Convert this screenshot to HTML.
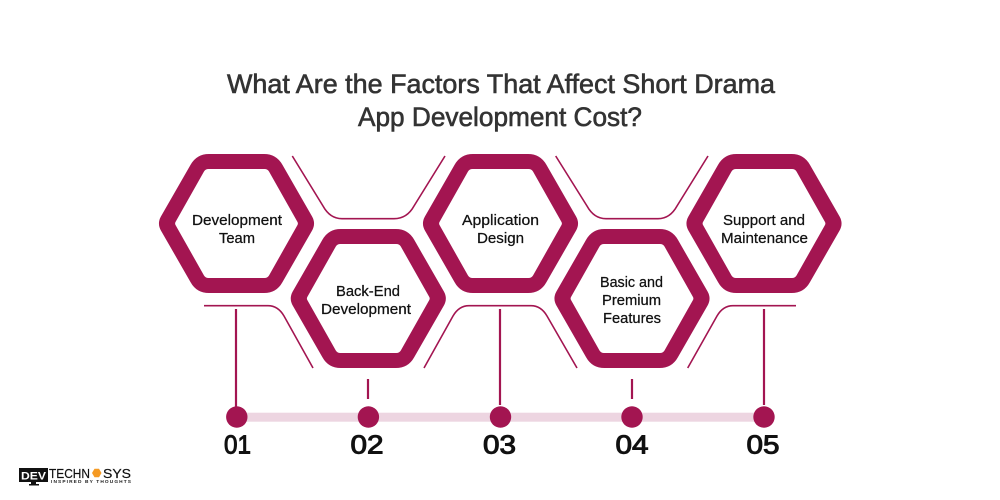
<!DOCTYPE html>
<html>
<head>
<meta charset="utf-8">
<title>Short Drama App Development Cost Factors</title>
<style>
html,body{margin:0;padding:0;background:#fff;width:1000px;height:500px;overflow:hidden}
svg{display:block}
text{font-family:"Liberation Sans",sans-serif}
.lbl{font-size:14.5px;fill:#111;text-anchor:middle;stroke:#111;stroke-width:.25px}
.num{font-size:26px;fill:#111;text-anchor:middle;stroke:#111;stroke-width:1px}
.ttl{font-size:26.5px;fill:#333;text-anchor:middle;stroke:#333;stroke-width:.6px}
.conn{fill:none;stroke:#a31551;stroke-width:1.6}
.stem{stroke:#a31551;stroke-width:2.2}
.hex{fill:#a31551;fill-rule:evenodd}
.dot{fill:#a31551}
</style>
</head>
<body>
<svg width="1000" height="500" viewBox="0 0 1000 500" xmlns="http://www.w3.org/2000/svg">
<defs>
<path id="hexshape" d="M-27.5-69.5L27.5-69.5Q39.9-69.5 45.9-58.7L75.6-7Q79.5 0 75.6 7L45.9 58.7Q39.9 69.5 27.5 69.5L-27.5 69.5Q-39.9 69.5-45.9 58.7L-75.6 7Q-79.5 0-75.6-7L-45.9-58.7Q-39.9-69.5-27.5-69.5Z M-28-54.5Q-31-54.5-32.5-52L-61-1.5Q-61.8 0-61 1.5L-32.5 52Q-31 54.5-28 54.5L28 54.5Q31 54.5 32.5 52L61 1.5Q61.8 0 61-1.5L32.5-52Q31-54.5 28-54.5Z"/>
</defs>

<rect width="1000" height="500" fill="#fff"/>

<text class="ttl" x="501" y="93" textLength="548" lengthAdjust="spacingAndGlyphs">What Are the Factors That Affect Short Drama</text>
<text class="ttl" x="500" y="126" textLength="284" lengthAdjust="spacingAndGlyphs">App Development Cost?</text>

<path class="conn" d="M292.3 156L323 206Q330 218.7 342 218.7L394 218.7Q407 218.7 414 206L445 156"/>
<path class="conn" d="M555.7 156L587 206Q594 218.7 606 218.7L658 218.7Q670 218.7 677 206L708 156"/>
<path class="conn" d="M204 305.7L268 305.7Q278 305.7 284 316L313 368"/>
<path class="conn" d="M424 368L453 316Q459 305.7 469 305.7L531 305.7Q541 305.7 547 316L577 368"/>
<path class="conn" d="M687.7 368L717 316Q723 305.7 733 305.7L796 305.7"/>

<use href="#hexshape" class="hex" transform="translate(236.5 223.5)"/>
<use href="#hexshape" class="hex" transform="translate(368.3 298.5)"/>
<use href="#hexshape" class="hex" transform="translate(500.5 223.5)"/>
<use href="#hexshape" class="hex" transform="translate(632 298.5)"/>
<use href="#hexshape" class="hex" transform="translate(764 223.5)"/>

<text class="lbl" x="237" y="225" textLength="90" lengthAdjust="spacingAndGlyphs">Development</text>
<text class="lbl" x="237" y="243" textLength="36" lengthAdjust="spacingAndGlyphs">Team</text>
<text class="lbl" x="368" y="296" textLength="64" lengthAdjust="spacingAndGlyphs">Back-End</text>
<text class="lbl" x="366" y="314" textLength="90" lengthAdjust="spacingAndGlyphs">Development</text>
<text class="lbl" x="500.5" y="225" textLength="77" lengthAdjust="spacingAndGlyphs">Application</text>
<text class="lbl" x="500.5" y="243" textLength="47" lengthAdjust="spacingAndGlyphs">Design</text>
<text class="lbl" x="631.5" y="287" textLength="63" lengthAdjust="spacingAndGlyphs">Basic and</text>
<text class="lbl" x="631.5" y="305" textLength="59" lengthAdjust="spacingAndGlyphs">Premium</text>
<text class="lbl" x="632" y="323" textLength="58" lengthAdjust="spacingAndGlyphs">Features</text>
<text class="lbl" x="764" y="225" textLength="82" lengthAdjust="spacingAndGlyphs">Support and</text>
<text class="lbl" x="764.5" y="243" textLength="87" lengthAdjust="spacingAndGlyphs">Maintenance</text>

<rect x="237" y="412.7" width="527" height="9" fill="#edd5e1"/>

<line class="stem" x1="236" y1="309" x2="236" y2="408"/>
<line class="stem" x1="368" y1="379" x2="368" y2="399"/>
<line class="stem" x1="500" y1="309" x2="500" y2="405"/>
<line class="stem" x1="632" y1="379" x2="632" y2="399"/>
<line class="stem" x1="764" y1="309" x2="764" y2="405"/>

<circle class="dot" cx="236.8" cy="417" r="10.7"/>
<circle class="dot" cx="368.4" cy="417" r="10.7"/>
<circle class="dot" cx="500.5" cy="417" r="10.7"/>
<circle class="dot" cx="632" cy="417" r="10.7"/>
<circle class="dot" cx="764" cy="417" r="10.7"/>

<text class="num" x="237.5" y="453.5" textLength="27" lengthAdjust="spacingAndGlyphs">01</text>
<text class="num" x="367" y="453.5" textLength="33" lengthAdjust="spacingAndGlyphs">02</text>
<text class="num" x="499.5" y="453.5" textLength="33" lengthAdjust="spacingAndGlyphs">03</text>
<text class="num" x="632" y="453.5" textLength="33" lengthAdjust="spacingAndGlyphs">04</text>
<text class="num" x="763" y="453.5" textLength="33" lengthAdjust="spacingAndGlyphs">05</text>

<g>
<rect x="19" y="468" width="29" height="14" fill="#111"/>
<rect x="31" y="482" width="5" height="2" fill="#111"/>
<rect x="29" y="484" width="10" height="1.5" fill="#111"/>
<text x="21" y="479.5" font-size="11" font-weight="700" fill="#fff" textLength="25" lengthAdjust="spacingAndGlyphs">DEV</text>
<text x="49" y="478" font-size="13" fill="#111" stroke="#111" stroke-width=".2" textLength="41" lengthAdjust="spacingAndGlyphs">TECHN</text>
<polygon points="92,473 94.5,468.8 99,468.8 101.5,473 99,477.2 94.5,477.2" fill="#f59a23"/>
<text x="103" y="478" font-size="13" fill="#111" stroke="#111" stroke-width=".2" textLength="28" lengthAdjust="spacingAndGlyphs">SYS</text>
<text x="51" y="483" font-size="4.8" font-weight="700" fill="#222" textLength="80" lengthAdjust="spacing">INSPIRED BY THOUGHTS</text>
</g>
</svg>
</body>
</html>
